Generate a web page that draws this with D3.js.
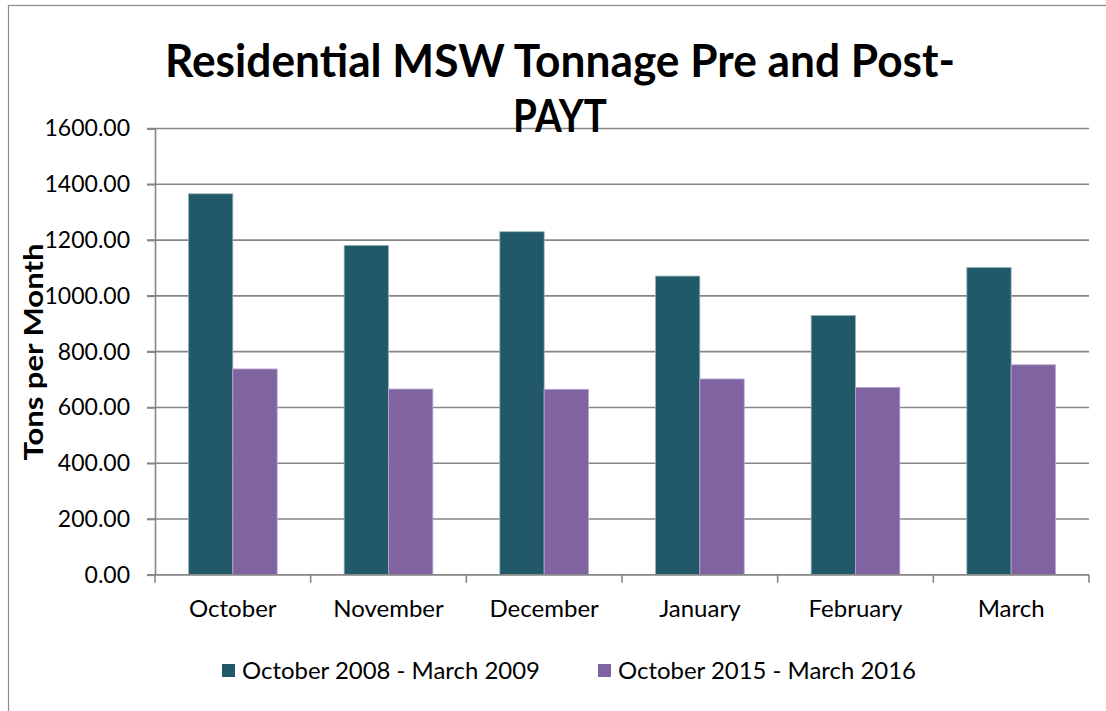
<!DOCTYPE html>
<html>
<head>
<meta charset="utf-8">
<script src="https://cdn.jsdelivr.net/npm/d3@7"></script>
<style>
  body { margin: 0; background: #fff; }
  text { font-family: Lato, "Open Sans", sans-serif; fill: #000; }
</style>
</head>
<body>
<div id="chart"></div>
<script>
// data
const months = ['October', 'November', 'December', 'January', 'February', 'March']
const seriesNames = ['October 2008 - March 2009', 'October 2015 - March 2016']
const tons2008 = [1366, 1181, 1230, 1071, 930, 1102]
const tons2015 = [738, 666, 665, 702, 672, 753]
const yTicks = [0, 200, 400, 600, 800, 1000, 1200, 1400, 1600]
const colors = ['#215968', '#8064a2']

// consts
const width = 1106, height = 711
const plot = { left: 155, right: 1089, top: 128.5, bottom: 574.8 }

const svg = d3.select('#chart')
    .append('svg')
    .attr('width', width)
    .attr('height', height)

// outer frame (only left and top edges show)
svg.append('rect')
    .attr('x', 8.5).attr('y', 5.5)
    .attr('width', 1120).attr('height', 720)
    .attr('fill', '#fff')
    .attr('stroke', '#8c8c8c')
    .attr('stroke-width', 1.2)

// scales
const x0 = d3.scaleBand()
    .domain(months)
    .range([plot.left, plot.right])
    .padding(0)
const x1 = d3.scaleBand()
    .domain(seriesNames)
    .range([0, x0.bandwidth()])
    .paddingInner(0)
    .paddingOuter(0.755)
const y = d3.scaleLinear()
    .domain([0, 1600])
    .range([plot.bottom, plot.top])

// gridlines
svg.append('g')
    .selectAll('line')
    .data(yTicks)
    .enter()
    .append('line')
    .attr('x1', plot.left - 8)
    .attr('x2', plot.right)
    .attr('y1', d => y(d))
    .attr('y2', d => y(d))
    .attr('stroke', '#868686')
    .attr('stroke-width', 1.6)

// y axis
const yAxis = svg.append('g')
    .attr('transform', `translate(${plot.left}, 0)`)
    .call(d3.axisLeft(y).tickValues(yTicks).tickSize(8).tickFormat(d3.format('.2f')))
yAxis.select('.domain').attr('stroke', '#868686').attr('stroke-width', 1.6)
yAxis.selectAll('.tick line').attr('stroke', '#868686').attr('stroke-width', 1.6)
yAxis.selectAll('.tick text')
    .attr('x', -25)
    .style('font-size', '23px')
    .style('font-family', 'Lato, sans-serif')
    .attr('fill', '#000')

// bars
const rows = months.map((m, i) => ({ month: m, values: [tons2008[i], tons2015[i]] }))
svg.append('g')
    .selectAll('g')
    .data(rows)
    .enter()
    .append('g')
    .attr('transform', d => `translate(${x0(d.month)}, 0)`)
    .selectAll('rect')
    .data(d => d.values.map((v, j) => ({ series: seriesNames[j], value: v, j })))
    .enter()
    .append('rect')
    .attr('x', d => x1(d.series))
    .attr('width', x1.bandwidth())
    .attr('y', d => y(d.value))
    .attr('height', d => y(0) - y(d.value))
    .attr('fill', d => colors[d.j])
    .attr('stroke', d => d.j === 0 ? '#9bb5bd' : '#b9a8cf')
    .attr('stroke-width', 0.8)

// x axis
const xTickPos = months.map(m => x0(m)).concat([plot.right])
svg.append('line')
    .attr('x1', plot.left).attr('x2', plot.right)
    .attr('y1', y(0)).attr('y2', y(0))
    .attr('stroke', '#868686').attr('stroke-width', 1.6)
svg.append('g')
    .selectAll('line')
    .data(xTickPos)
    .enter()
    .append('line')
    .attr('x1', d => d).attr('x2', d => d)
    .attr('y1', y(0)).attr('y2', y(0) + 8)
    .attr('stroke', '#868686').attr('stroke-width', 1.6)
svg.append('g')
    .selectAll('text')
    .data(months)
    .enter()
    .append('text')
    .attr('x', d => x0(d) + x0.bandwidth() / 2)
    .attr('y', 617)
    .attr('text-anchor', 'middle')
    .style('font-size', '24px')
    .text(d => d)

// title
svg.append('text')
    .attr('x', 560).attr('y', 77)
    .attr('text-anchor', 'middle')
    .attr('textLength', 790)
    .attr('lengthAdjust', 'spacingAndGlyphs')
    .style('font-size', '45px')
    .style('font-weight', 'bold')
    .text('Residential MSW Tonnage Pre and Post-')
svg.append('text')
    .attr('x', 560).attr('y', 132)
    .attr('text-anchor', 'middle')
    .attr('textLength', 94)
    .attr('lengthAdjust', 'spacingAndGlyphs')
    .style('font-size', '45px')
    .style('font-weight', 'bold')
    .text('PAYT')

// y axis title
svg.append('text')
    .attr('transform', 'translate(43, 352) rotate(-90)')
    .attr('text-anchor', 'middle')
    .attr('textLength', 217)
    .attr('lengthAdjust', 'spacingAndGlyphs')
    .style('font-size', '27px')
    .style('font-weight', 'bold')
    .text('Tons per Month')

// legend
const legendX = [222, 598]
const legend = svg.append('g')
    .selectAll('g')
    .data(seriesNames)
    .enter()
    .append('g')
    .attr('transform', (d, i) => `translate(${legendX[i]}, 664)`)
legend.append('rect')
    .attr('width', 13).attr('height', 13)
    .attr('fill', (d, i) => colors[i])
legend.append('text')
    .attr('x', 20).attr('y', 15)
    .attr('textLength', 298)
    .attr('lengthAdjust', 'spacingAndGlyphs')
    .style('font-size', '24px')
    .text(d => d)
</script>
</body>
</html>
